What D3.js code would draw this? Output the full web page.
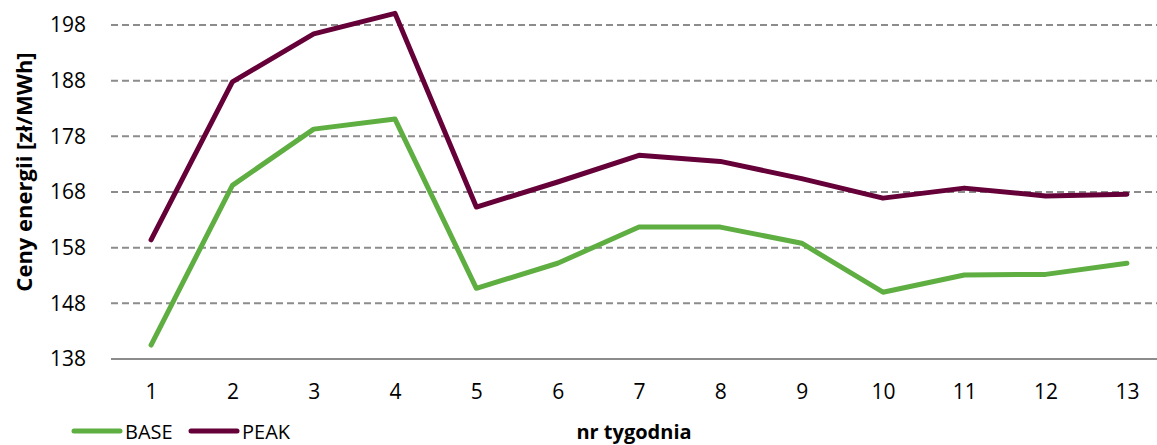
<!DOCTYPE html>
<html>
<head>
<meta charset="utf-8">
<script src="https://cdn.jsdelivr.net/npm/d3@7"></script>
<style>
  body { margin: 0; background: #fff; }
  text { font-family: "Open Sans", sans-serif; fill: #000; }
</style>
</head>
<body>
<div id="chart"></div>
<script>
var weeks = [1, 2, 3, 4, 5, 6, 7, 8, 9, 10, 11, 12, 13];
var base = [140.5, 169.2, 179.3, 181.1, 150.7, 155.2, 161.7, 161.7, 158.8, 150.0, 153.1, 153.2, 155.2];
var peak = [159.4, 187.8, 196.4, 200.1, 165.3, 169.8, 174.6, 173.5, 170.4, 166.9, 168.7, 167.3, 167.6];
var yTicks = [138, 148, 158, 168, 178, 188, 198];
var seriesNames = ['BASE', 'PEAK'];
var colors = ['#5fae42', '#650038'];

var width = 1157,
    height = 445,
    svg = d3.select('#chart')
    .append('svg')
    .attr('width', width)
    .attr('height', height);

var x = d3.scalePoint()
    .domain(weeks)
    .range([110.4, 1167.6])
    .padding(0.5);

var y = d3.scaleLinear()
    .domain([138, 200])
    .range([359, 13.9]);

// gridlines
svg.selectAll('.grid')
    .data(yTicks.slice(1))
    .enter()
    .append('line')
    .attr('x1', 111)
    .attr('x2', width)
    .attr('y1', function(d) { return y(d); })
    .attr('y2', function(d) { return y(d); })
    .attr('stroke', '#8c8c8c')
    .attr('stroke-width', 2)
    .attr('stroke-dasharray', '7,4');

// baseline
svg.append('line')
    .attr('x1', 111)
    .attr('x2', width)
    .attr('y1', y(138))
    .attr('y2', y(138))
    .attr('stroke', '#8c8c8c')
    .attr('stroke-width', 2);

// y axis labels
var yAxis = d3.axisLeft(y).tickValues(yTicks).tickSize(0).tickPadding(0);
var gy = svg.append('g')
    .attr('transform', 'translate(86,0)')
    .call(yAxis);
gy.select('.domain').remove();
gy.selectAll('text')
    .style('font-family', '"Open Sans", sans-serif')
    .style('font-size', '21px')
    .attr('fill', '#000');

// x axis labels
var xAxis = d3.axisBottom(x).tickSize(0).tickPadding(0);
var gx = svg.append('g')
    .attr('transform', 'translate(0,384)')
    .call(xAxis);
gx.select('.domain').remove();
gx.selectAll('text')
    .style('font-family', '"Open Sans", sans-serif')
    .style('font-size', '21px')
    .attr('fill', '#000');

// lines
var line = d3.line()
    .x(function(d, i) { return x(weeks[i]); })
    .y(function(d) { return y(d); });

[base, peak].forEach(function(values, k) {
    svg.append('path')
        .datum(values)
        .attr('fill', 'none')
        .attr('stroke', colors[k])
        .attr('stroke-width', 5)
        .attr('stroke-linejoin', 'round')
        .attr('stroke-linecap', 'round')
        .attr('d', line);
});

// axis titles
svg.append('text')
    .attr('transform', 'translate(32,172) rotate(-90)')
    .attr('text-anchor', 'middle')
    .style('font-size', '22px')
    .style('font-weight', 'bold')
    .text('Ceny energii [zł/MWh]');

svg.append('text')
    .attr('x', 634)
    .attr('y', 439)
    .attr('text-anchor', 'middle')
    .style('font-size', '20px')
    .style('font-weight', 'bold')
    .text('nr tygodnia');

// legend
var legend = svg.selectAll('.legend')
    .data(seriesNames)
    .enter()
    .append('g')
    .attr('transform', function(d, i) { return 'translate(' + (74 + i * 117) + ',431)'; });

legend.append('line')
    .attr('x1', 0)
    .attr('x2', 46)
    .attr('stroke', function(d, i) { return colors[i]; })
    .attr('stroke-width', 5)
    .attr('stroke-linecap', 'round');

legend.append('text')
    .attr('x', 51)
    .attr('y', 8)
    .style('font-size', '20px')
    .text(function(d) { return d; });
</script>
</body>
</html>
